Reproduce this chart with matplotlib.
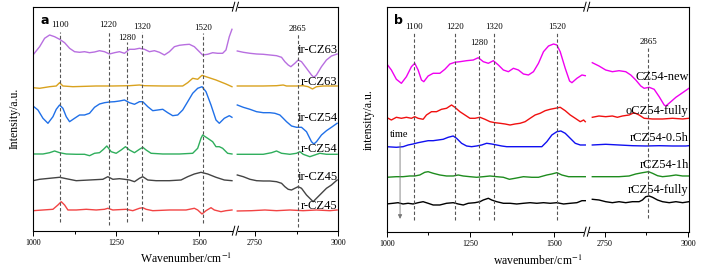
import numpy as np
import matplotlib
matplotlib.use('Agg')
import matplotlib.pyplot as plt

plt.rcParams['font.family'] = ['Liberation Serif', 'DejaVu Serif']
plt.rcParams['mathtext.fontset'] = 'stix'

# ---------------- panel a : spectra (wavenumber, intensity a.u.) ----------------
ir_CZ63 = [(1000, 175.7), (1020, 184), (1035, 192.4), (1050, 195.7), (1065, 194), (1080, 191.4),
           (1095, 188), (1110, 182.4), (1125, 179), (1140, 178.4), (1155, 179), (1170, 178),
           (1185, 178.7), (1200, 180), (1215, 179), (1230, 176.7), (1245, 178), (1260, 179),
           (1275, 177.4), (1290, 181.4), (1305, 181.4), (1320, 182.4), (1335, 181.4), (1350, 179),
           (1365, 180), (1380, 178.4), (1395, 175.7), (1410, 179), (1425, 184), (1440, 185.4),
           (1455, 186), (1470, 186.4), (1485, 184), (1500, 179), (1510, 175.7), (1525, 176.4),
           (1540, 178), (1555, 177.4), (1570, 177.4), (1580, 180.7), (1590, 194), (1598, 201.4),
           (2697, 179.7), (2715, 178.4), (2735, 177.4), (2755, 176.7), (2775, 176.4), (2795, 175.7),
           (2815, 175), (2830, 173.4), (2840, 169), (2850, 165.7), (2858, 164), (2870, 167.4),
           (2880, 170.7), (2890, 169), (2905, 162.4), (2920, 155.7), (2927, 153.4), (2935, 155.7),
           (2950, 164), (2965, 170.7), (2980, 174.7), (2997, 176.7)]
r_CZ63 = [(1000, 143), (1020, 142.4), (1050, 144), (1070, 144.7), (1080, 148), (1090, 144.7),
          (1120, 144), (1190, 144.7), (1240, 144.7), (1290, 145), (1320, 145.7), (1335, 145),
          (1390, 144.7), (1450, 144.7), (1465, 148), (1480, 152.4), (1495, 151.4), (1508, 155.4),
          (1520, 154), (1550, 150.7), (1580, 146.7), (1598, 144),
          (2697, 144.7), (2735, 144.7), (2775, 144.7), (2815, 145), (2835, 145.7), (2845, 144.7),
          (2875, 144.7), (2895, 145), (2910, 144), (2923, 141.7), (2935, 144), (2955, 144.7),
          (2997, 144.7)]
ir_CZ54 = [(1000, 124.7), (1015, 120.7), (1030, 112.4), (1045, 107.4), (1060, 114), (1070, 121.4),
           (1080, 125.7), (1090, 122.4), (1100, 114), (1110, 109), (1125, 112.4), (1140, 115.7),
           (1155, 115.7), (1170, 117.4), (1185, 123.4), (1200, 126.7), (1215, 128), (1230, 128.7),
           (1245, 129), (1260, 129.7), (1275, 130.7), (1290, 128), (1305, 126.4), (1320, 129),
           (1330, 129), (1345, 124), (1360, 120), (1375, 120.7), (1390, 121.4), (1405, 118),
           (1420, 115), (1435, 115.7), (1450, 120.7), (1465, 129), (1480, 137.4), (1495, 142.4),
           (1508, 144), (1520, 139), (1535, 125.7), (1550, 110.7), (1560, 107.4), (1575, 112.4),
           (1590, 115), (1598, 113.4),
           (2697, 125.7), (2715, 123.4), (2735, 121.4), (2755, 119), (2775, 118), (2795, 118),
           (2810, 117.4), (2825, 115.7), (2835, 112.4), (2845, 109), (2860, 104.7), (2875, 103.4),
           (2890, 103.4), (2905, 99), (2920, 89), (2927, 86.7), (2935, 89), (2950, 95.7),
           (2965, 100), (2980, 103.4), (2997, 107.4)]
r_CZ54 = [(1000, 76.7), (1030, 76.7), (1050, 78), (1065, 79.7), (1080, 78), (1100, 76.7),
          (1130, 76.4), (1155, 76.4), (1170, 75), (1185, 77.4), (1200, 78), (1212, 81.4),
          (1222, 84.7), (1235, 79), (1250, 77.4), (1265, 80.7), (1278, 84), (1290, 80.7),
          (1305, 78), (1320, 81.4), (1330, 83.4), (1340, 80.7), (1355, 77.4), (1390, 76.7),
          (1440, 76.7), (1480, 77.4), (1495, 82.4), (1505, 92.4), (1510, 95.7), (1525, 92.4),
          (1540, 89), (1550, 84), (1560, 84), (1570, 82.4), (1585, 77.4), (1598, 76.7),
          (2697, 76.4), (2735, 76.4), (2775, 76.4), (2800, 78), (2815, 79.7), (2830, 77.4),
          (2855, 76.4), (2875, 77.4), (2885, 79), (2895, 76.4), (2915, 74), (2930, 75.7),
          (2945, 77.4), (2965, 76.4), (2997, 76.4)]
ir_CZ45 = [(1000, 50), (1020, 51.4), (1050, 52.4), (1080, 53.4), (1100, 52), (1130, 50),
           (1170, 50.7), (1210, 51.4), (1225, 54), (1240, 51.4), (1260, 52), (1275, 51.4),
           (1290, 50.7), (1305, 49), (1320, 52.4), (1330, 54), (1345, 50.7), (1370, 50),
           (1410, 50), (1445, 50.7), (1465, 54), (1485, 56.7), (1505, 58.4), (1525, 56.7),
           (1550, 53.4), (1575, 50.7), (1598, 50),
           (2697, 55.7), (2715, 54), (2735, 51.4), (2755, 50), (2775, 49.7), (2795, 49.7),
           (2815, 49), (2830, 47.4), (2840, 44), (2850, 41.4), (2860, 40.7), (2870, 42.4),
           (2880, 44), (2890, 42.4), (2905, 35.7), (2920, 30.7), (2925, 29), (2935, 32.4),
           (2950, 37.4), (2965, 42.4), (2980, 45.7), (2997, 50.7)]
r_CZ45 = [(1000, 20), (1030, 20.7), (1060, 21.4), (1075, 25.7), (1085, 29), (1095, 25.7),
          (1105, 20.7), (1130, 20.7), (1160, 21.4), (1190, 20.7), (1215, 21.4), (1225, 22.4),
          (1240, 20.7), (1280, 21.4), (1300, 20), (1320, 22.4), (1330, 23), (1340, 21.4),
          (1360, 20), (1410, 20.7), (1460, 20.7), (1485, 22.4), (1495, 20.7), (1508, 16.7),
          (1520, 20), (1535, 23), (1545, 20.7), (1565, 19), (1580, 20), (1598, 20.7),
          (2697, 19.7), (2740, 20), (2780, 20.7), (2815, 20), (2855, 20.7), (2895, 20),
          (2935, 20.7), (2975, 20), (2997, 20.7)]

names_a = ['ir-CZ63', 'r-CZ63', 'ir-CZ54', 'r-CZ54', 'ir-CZ45', 'r-CZ45']
colors_a = ['#B86FE0', '#D9A21E', '#2070E8', '#2FAE5C', '#444444', '#F24444']
label_y_a = [180.7, 148.7, 112.7, 81.7, 54, 24.7]

# ---------------- panel b ----------------
CZ54_new = [(999, 168.4), (1014, 161.7), (1029, 152.4), (1044, 148.4), (1059, 155), (1074, 165),
            (1084, 168.4), (1094, 161.7), (1104, 151.7), (1111, 150), (1124, 155.7), (1139, 158.4),
            (1159, 158.4), (1174, 162.4), (1189, 167.7), (1204, 169.4), (1219, 170), (1239, 171),
            (1259, 171.7), (1274, 174), (1289, 170), (1304, 168.4), (1319, 171), (1334, 166.7),
            (1349, 161.7), (1364, 160), (1379, 163.4), (1394, 161.7), (1409, 157.7), (1424, 156.7),
            (1439, 160), (1454, 168.4), (1469, 180), (1484, 185.7), (1499, 187.7), (1509, 186.7),
            (1519, 180), (1534, 163.4), (1547, 150.7), (1554, 149), (1569, 153.4), (1584, 156.7),
            (1594, 156),
            (2713, 169), (2733, 165.7), (2753, 161.7), (2773, 160), (2793, 161), (2813, 160),
            (2828, 156.7), (2843, 151.7), (2858, 145.7), (2868, 143.4), (2883, 144.4), (2898, 142.4),
            (2913, 135), (2928, 126.7), (2933, 125.7), (2948, 130), (2963, 134.4), (2983, 139),
            (3002, 143.4)]
oCZ54_fully = [(999, 114.4), (1014, 111.7), (1029, 114.4), (1044, 113.4), (1059, 114.4), (1074, 113.4),
               (1084, 115), (1094, 113.4), (1109, 112.4), (1119, 116.7), (1134, 120), (1149, 120),
               (1164, 122.4), (1179, 123.4), (1194, 126.7), (1204, 124.4), (1219, 120), (1234, 116.7),
               (1249, 113.4), (1264, 113.4), (1279, 114.4), (1294, 112.4), (1309, 110), (1324, 109),
               (1339, 108.4), (1354, 107.7), (1369, 106.7), (1384, 107.7), (1399, 108.4), (1414, 110),
               (1429, 113.4), (1444, 116.7), (1459, 118.4), (1474, 121), (1489, 122.4), (1504, 123.4),
               (1519, 124.4), (1534, 121), (1549, 116.7), (1564, 113.4), (1579, 110), (1589, 111.7),
               (1594, 110),
               (2713, 114.4), (2733, 115.7), (2753, 115), (2773, 115.7), (2788, 114.4), (2803, 115.7),
               (2823, 116.7), (2838, 119), (2853, 116.7), (2868, 113.4), (2893, 112.7), (2923, 112.7),
               (2953, 113.4), (2983, 112.7), (3002, 113.4)]
rCZ54_05h = [(999, 85), (1029, 84.4), (1049, 85), (1064, 86.7), (1079, 87.7), (1094, 89), (1109, 90),
             (1124, 91), (1139, 91), (1154, 91.7), (1169, 92.4), (1184, 94.4), (1199, 95.7), (1209, 93.4),
             (1224, 88.4), (1239, 85.7), (1254, 85), (1269, 85.7), (1284, 86.7), (1299, 88.4),
             (1314, 87.7), (1329, 86.7), (1344, 85.7), (1359, 85), (1389, 85), (1429, 85), (1464, 85),
             (1479, 90), (1494, 96.7), (1509, 100), (1521, 100.7), (1534, 98.4), (1549, 93.4),
             (1564, 88.4), (1579, 86.7), (1594, 86.7),
             (2713, 86.7), (2753, 87.4), (2793, 86.7), (2833, 86), (2873, 85.7), (2913, 86),
             (2953, 85.7), (2993, 85.7), (3002, 86)]
rCZ54_1h = [(999, 54.4), (1029, 55), (1049, 55), (1069, 55.7), (1084, 55.7), (1099, 56.7), (1114, 59.4),
            (1124, 60), (1139, 58.4), (1159, 56.7), (1179, 55.7), (1199, 55.7), (1214, 56.7), (1229, 55.7),
            (1249, 55), (1269, 54.4), (1289, 55), (1309, 55.7), (1329, 55), (1349, 54.4), (1367, 52.4),
            (1384, 53.4), (1409, 55), (1434, 54.4), (1454, 54.4), (1479, 56.7), (1494, 57.7), (1509, 59),
            (1524, 56.7), (1544, 55), (1564, 55), (1594, 55),
            (2713, 55), (2753, 55), (2793, 55), (2823, 55.7), (2843, 57.7), (2863, 59), (2881, 60),
            (2893, 58.4), (2908, 56), (2923, 55), (2943, 55.7), (2963, 56.7), (2983, 55.7), (3002, 55.7)]
rCZ54_fully = [(999, 27.7), (1019, 28.4), (1034, 29), (1049, 27.7), (1064, 28.4), (1079, 27.7),
               (1094, 29), (1109, 30), (1124, 28.4), (1139, 26.7), (1159, 26.7), (1179, 28.4),
               (1199, 29), (1214, 27.7), (1229, 26.7), (1244, 28.4), (1264, 29), (1279, 30),
               (1289, 31.7), (1304, 33.4), (1314, 31.7), (1329, 30), (1349, 28.4), (1369, 28.4),
               (1389, 27.7), (1409, 28.4), (1429, 29), (1449, 28.4), (1469, 29), (1489, 28.4),
               (1509, 29), (1529, 27.7), (1549, 28.4), (1569, 29), (1584, 31), (1594, 31),
               (2713, 32.4), (2733, 31.7), (2753, 30), (2773, 29), (2793, 30), (2813, 29), (2833, 30),
               (2853, 30), (2863, 31.7), (2873, 35), (2883, 35.7), (2893, 34.4), (2908, 31.7),
               (2923, 30), (2943, 29), (2963, 30), (2983, 29), (3002, 30)]

names_b = ['CZ54-new', 'oCZ54-fully', 'rCZ54-0.5h', 'rCZ54-1h', 'rCZ54-fully']
colors_b = ['#F000F0', '#F01010', '#1010F0', '#1E8C1E', '#000000']
label_y_b = [155, 121, 93.7, 66.7, 41.7]

# reference band positions (where the dashed lines sit, label text)
bands_a = [1080, 1227, 1282, 1329, 1511, 2878]
bands_b = [1083, 1205, 1276, 1322, 1509, 2881]
band_text = ['1100', '1220', '1280', '1320', '1520', '2865']
band_top_a = [198.7, 198.7, 188.7, 198.7, 197.7, 197.7]
band_bot_a = [9, 5.7, 9, 9.7, 7.7, 4]
band_lab_a = [205.7, 205.7, 193, 203.7, 202.7, 201.7]
band_top_b = [198.7, 198.7, 182.7, 198.7, 198.7, 183.7]
band_bot_b = [11.7, 11.7, 11.7, 11.7, 11.7, 13.7]
band_lab_b = [204.7, 204.7, 188.7, 204.7, 204.7, 189.7]


def broken(g0, g1):
    xs = [0, g0, g1, 6000]
    us = [0, g0, g0 + 1, g0 + 1 + 6000 - g1]
    return (lambda x: np.interp(x, xs, us)), (lambda u: np.interp(u, us, xs))


def draw_panel(ax, curves, names, colors, label_y, bands, tops, bots, labs, gap, xmax, ymax):
    fwd, inv = broken(*gap)
    ax.set_xscale('function', functions=(fwd, inv))
    for data, name, c, ly in zip(curves, names, colors, label_y):
        arr = np.array(data, dtype=float)
        left = arr[arr[:, 0] < 2000]
        right = arr[arr[:, 0] > 2000]
        ax.plot(left[:, 0], left[:, 1], color=c, lw=1.0)
        ax.plot(right[:, 0], right[:, 1], color=c, lw=1.0)
        ax.text(xmax - 2, ly, name, ha='right', va='center', fontsize=9)
    for b, t, lo, lb, s in zip(bands, tops, bots, labs, band_text):
        ax.plot([b, b], [lo, t], ls=(0, (3, 2)), color='#555555', lw=0.8)
        ax.text(b, lb, s, ha='center', va='center', fontsize=6.3)
    ax.set_xlim(1000, xmax)
    ax.set_ylim(0, ymax)
    ax.set_yticks([])
    ax.set_xticks([1000, 1250, 1500, 2750, 3000])
    ax.set_xticks([1125, 1375, 2875], minor=True)
    ax.tick_params(axis='x', which='major', length=3.5, labelsize=5.8, pad=2.5, width=0.7)
    ax.tick_params(axis='x', which='minor', length=2, width=0.7)
    for sp in ax.spines.values():
        sp.set_linewidth(0.8)
    # break marks on top and bottom spines
    frac = (fwd(gap[0]) + 0.5 - 1000) / (fwd(xmax) - 1000)
    for yy in (0, 1):
        ax.plot([frac - 0.004, frac + 0.004], [yy, yy], transform=ax.transAxes, color='white',
                lw=2, clip_on=False, zorder=5)
        for dx in (-0.008, 0.004):
            ax.plot([frac + dx, frac + dx + 0.008], [yy - 0.02, yy + 0.02], transform=ax.transAxes,
                    color='black', lw=0.7, clip_on=False, zorder=6)


fig = plt.figure(figsize=(7.06, 2.70), dpi=100)
ax1 = fig.add_axes([0.0467, 0.1456, 0.4322, 0.8296])
ax2 = fig.add_axes([0.5477, 0.1419, 0.4286, 0.8333])

draw_panel(ax1, [ir_CZ63, r_CZ63, ir_CZ54, r_CZ54, ir_CZ45, r_CZ45], names_a, colors_a, label_y_a,
           bands_a, band_top_a, band_bot_a, band_lab_a, (1606, 2690), 3000, 224)
draw_panel(ax2, [CZ54_new, oCZ54_fully, rCZ54_05h, rCZ54_1h, rCZ54_fully], names_b, colors_b, label_y_b,
           bands_b, band_top_b, band_bot_b, band_lab_b, (1596, 2695), 3003, 225)

ax1.set_xlabel('Wavenumber/cm$^{-1}$', fontsize=8.5)
ax1.xaxis.set_label_coords(0.5, -0.095)
ax1.set_ylabel('Intensity/a.u.', fontsize=8.5)
ax1.yaxis.set_label_coords(-0.042, 0.5)
ax2.set_xlabel('wavenumber/cm$^{-1}$', fontsize=8.5)
ax2.xaxis.set_label_coords(0.5, -0.1)
ax2.set_ylabel('intensity/a.u.', fontsize=8.5)
ax2.yaxis.set_label_coords(-0.038, 0.5)

ax1.text(0.025, 0.94, 'a', transform=ax1.transAxes, fontsize=9, fontweight='bold',
         family='DejaVu Sans', va='center')
ax2.text(0.025, 0.94, 'b', transform=ax2.transAxes, fontsize=9, fontweight='bold',
         family='DejaVu Sans', va='center')

# time arrow in panel b
ax2.annotate('', xy=(1040, 10), xytext=(1040, 92),
             arrowprops=dict(arrowstyle='-|>', color='#777777', lw=0.6, mutation_scale=6))
ax2.text(1010, 97.5, 'time', fontsize=7.5, va='center', ha='left')

fig.savefig('out.png', dpi=100)
